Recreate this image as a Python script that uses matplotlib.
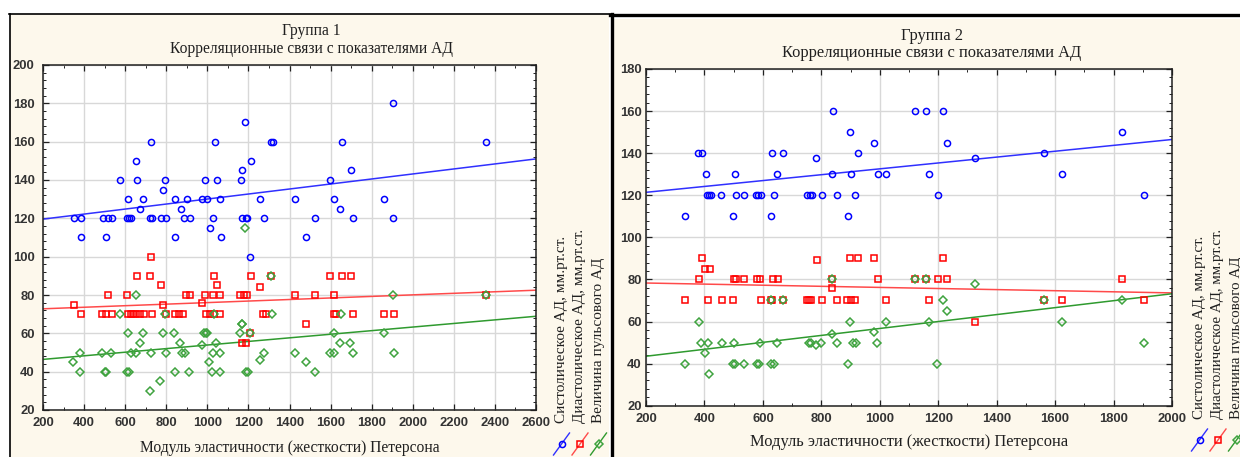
import numpy as np
import matplotlib.pyplot as plt
from matplotlib.patches import Rectangle
from matplotlib.lines import Line2D
from matplotlib.ticker import MultipleLocator

# Группа 1: (модуль Петерсона, АД)
g1_sys = [(349, 120), (383, 120), (490, 120), (516, 120), (534, 120), (610, 120), (619, 120),
          (626, 120), (720, 120), (730, 120), (773, 120), (801, 120), (884, 120), (914, 120),
          (1026, 120), (1167, 120), (1186, 120), (1193, 120), (1277, 120), (1525, 120),
          (1707, 120), (1905, 120),
          (383, 110), (506, 110), (843, 110), (1065, 110), (1481, 110), (1011, 115), (1206, 100),
          (673, 125), (870, 125), (1648, 125),
          (616, 130), (687, 130), (841, 130), (900, 130), (972, 130), (998, 130), (1063, 130),
          (1258, 130), (1429, 130), (1617, 130), (1860, 130), (784, 135),
          (576, 140), (658, 140), (796, 140), (988, 140), (1045, 140), (1162, 140), (1599, 140),
          (1167, 145), (1700, 145), (655, 150), (1215, 150),
          (725, 160), (1036, 160), (1311, 160), (1319, 160), (1656, 160), (2357, 160),
          (1181, 170), (1902, 180)]

g1_dia = [(725, 100),
          (660, 90), (720, 90), (1034, 90), (1215, 90), (1311, 90), (1599, 90), (1656, 90), (1700, 90),
          (773, 85), (1045, 85), (1257, 84),
          (514, 80), (607, 80), (898, 80), (917, 80), (988, 80), (1027, 80), (1063, 80), (1157, 80),
          (1178, 80), (1193, 80), (1429, 80), (1525, 80), (1617, 80), (2357, 80),
          (974, 76), (351, 75), (786, 75),
          (383, 70), (488, 70), (509, 70), (534, 70), (614, 70), (628, 70), (639, 70), (655, 70),
          (671, 70), (691, 70), (731, 70), (801, 70), (841, 70), (861, 70), (880, 70), (995, 70),
          (1011, 70), (1031, 70), (1063, 70), (1270, 70), (1287, 70), (1617, 70), (1627, 70),
          (1707, 70), (1858, 70), (1907, 70),
          (1481, 65), (1206, 60), (1167, 55), (1186, 55)]

g1_pulse = [(1181, 115), (1311, 90), (652, 80), (1902, 80), (2357, 80),
            (574, 70), (796, 70), (1031, 70), (1313, 70), (1651, 70), (1167, 65), (1170, 65),
            (614, 60), (687, 60), (784, 60), (840, 60), (982, 60), (992, 60), (998, 60), (1160, 60),
            (1209, 60), (1617, 60), (1858, 60),
            (671, 55), (869, 55), (1044, 55), (1646, 55), (1696, 55), (972, 54),
            (380, 50), (488, 50), (532, 50), (626, 50), (655, 50), (728, 50), (798, 50), (879, 50),
            (893, 50), (1027, 50), (1060, 50), (1275, 50), (1429, 50), (1599, 50), (1617, 50),
            (1707, 50), (1907, 50),
            (1254, 46), (347, 45), (1008, 45), (1481, 45),
            (380, 40), (503, 40), (509, 40), (607, 40), (619, 40), (841, 40), (911, 40), (1022, 40),
            (1060, 40), (1186, 40), (1197, 40), (1525, 40), (772, 35), (720, 30)]

# линии регрессии: значения на левом и правом краю оси X
g1_trend = [(119.6, 151.0), (72.8, 82.5), (46.4, 68.9)]

# Группа 2
g2_sys = [(841, 160), (1120, 160), (1157, 160), (1215, 160), (899, 150), (1830, 150),
          (981, 145), (1230, 145),
          (377, 140), (393, 140), (631, 140), (670, 140), (924, 140), (1562, 140),
          (783, 137.5), (1326, 137.5),
          (405, 130), (505, 130), (649, 130), (836, 130), (900, 130), (993, 130), (1021, 130),
          (1170, 130), (1623, 130),
          (408, 120), (414, 120), (421, 120), (458, 120), (507, 120), (536, 120), (577, 120),
          (584, 120), (592, 120), (639, 120), (750, 120), (761, 120), (768, 120), (802, 120),
          (855, 120), (916, 120), (1198, 120), (1905, 120),
          (334, 110), (497, 110), (628, 110), (892, 110)]

g2_dia = [(392, 90), (899, 90), (924, 90), (981, 90), (1215, 90), (784, 89), (403, 85), (419, 85),
          (380, 80), (502, 80), (508, 80), (536, 80), (579, 80), (591, 80), (636, 80), (653, 80),
          (837, 80), (993, 80), (1120, 80), (1157, 80), (1200, 80), (1230, 80), (1830, 80),
          (837, 76),
          (334, 70), (412, 70), (460, 70), (497, 70), (594, 70), (627, 70), (632, 70), (669, 70),
          (750, 70), (758, 70), (766, 70), (801, 70), (855, 70), (889, 70), (900, 70), (915, 70),
          (1020, 70), (1170, 70), (1562, 70), (1623, 70), (1905, 70),
          (1326, 60)]

g2_pulse = [(837, 80), (1120, 80), (1157, 80), (1326, 78),
            (627, 70), (669, 70), (1215, 70), (1562, 70), (1830, 70), (1229, 65),
            (380, 60), (899, 60), (1020, 60), (1170, 60), (1623, 60), (981, 55), (836, 54),
            (388, 50), (411, 50), (460, 50), (502, 50), (590, 50), (647, 50), (757, 50), (765, 50),
            (799, 50), (855, 50), (909, 50), (919, 50), (992, 50), (1905, 50), (782, 49), (403, 45),
            (334, 40), (497, 40), (505, 40), (535, 40), (580, 40), (586, 40), (627, 40), (638, 40),
            (890, 40), (1197, 40), (417, 35)]

g2_trend = [(121.4, 146.5), (78.3, 73.6), (43.5, 73.2)]

series_names = ["Систолическое АД, мм.рт.ст.",
                "Диастолическое АД, мм.рт.ст.",
                "Величина пульсового АД"]
title_sub = "Корреляционные связи с показателями АД"
x_label = "Модуль эластичности (жесткости) Петерсона"

W, H = 1240, 457
CREAM = "#fdf8ec"
SERIF = "Liberation Serif"
SANS = "Liberation Sans"
styles = [dict(marker="o", color="#0000ff", line="#3030ff", ms=4.4),
          dict(marker="s", color="#ff0000", line="#ff4a4a", ms=4.0),
          dict(marker="D", color="#3fa33f", line="#2f9a2f", ms=3.8)]

fig = plt.figure(figsize=(W / 100, H / 100), dpi=100)
fig.patch.set_facecolor("white")


def fx(x):
    return x / W


def fy(y):
    return 1 - y / H


def rect(x0, y0, x1, y1):
    return [fx(x0), fy(y1), (x1 - x0) / W, (y1 - y0) / H]


def fig_line(xs, ys, **kw):
    fig.add_artist(Line2D([fx(v) for v in xs], [fy(v) for v in ys], **kw))


# панели с рамкой (под осями)
fig.add_artist(Rectangle((fx(10), fy(457)), fx(599), 443 / H, facecolor=CREAM,
                         edgecolor="none", zorder=-5))
fig_line([9.5, 9.5], [457, 13.5], color="black", lw=1.2, zorder=-4)
fig_line([9, 612], [13.5, 13.5], color="black", lw=1.2, zorder=-4)
fig.add_artist(Rectangle((fx(613), fy(457)), fx(627), 438 / H, facecolor=CREAM,
                         edgecolor="none", zorder=-5))
fig_line([611.5, 611.5], [457, 14], color="black", lw=2.4, zorder=-4)
fig_line([610, 1240], [14.8, 14.8], color="black", lw=2.4, zorder=-4)


def panel(box, data, trend, xmax, ymin, ymax, title, title_x, title_y, xlab_y,
          leg_x, leg_bottom, fs, leg_fs, ypad):
    ax = fig.add_axes(rect(*box))
    ax.set_facecolor("white")
    for pts, tr, st in zip(data, trend, styles):
        x = [p[0] for p in pts]
        y = [p[1] for p in pts]
        ax.plot([200, xmax], tr, color=st["line"], lw=1.1, zorder=2)
        ax.plot(x, y, ls="none", marker=st["marker"], ms=st["ms"], mfc="none",
                mec=st["color"], mew=1.1, zorder=3)
    ax.set_xlim(200, xmax)
    ax.set_ylim(ymin, ymax)
    ax.xaxis.set_major_locator(MultipleLocator(200))
    ax.xaxis.set_minor_locator(MultipleLocator(100))
    ax.yaxis.set_major_locator(MultipleLocator(20))
    ax.yaxis.set_minor_locator(MultipleLocator(4))
    ax.grid(True, which="major", color="#d8d8d8", lw=1.0, zorder=0)
    ax.set_axisbelow(True)
    for s in ax.spines.values():
        s.set_color("#202020")
        s.set_linewidth(1.1)
    ax.tick_params(which="both", direction="in", top=True, right=True, color="#202020")
    ax.tick_params(which="major", length=4, width=0.9, labelsize=9.4, labelcolor="#333333")
    ax.tick_params(axis="x", which="major", pad=5)
    ax.tick_params(axis="y", which="major", pad=ypad)
    ax.tick_params(which="minor", length=2, width=0.7)
    for lab in ax.get_xticklabels() + ax.get_yticklabels():
        lab.set_fontfamily(SANS)
        lab.set_fontweight("bold")

    fig.text(fx(title_x), fy(title_y[0]), title, ha="center", va="center",
             family=SERIF, fontsize=fs, color="#202020")
    fig.text(fx(title_x), fy(title_y[1]), title_sub, ha="center", va="center",
             family=SERIF, fontsize=fs, color="#202020")
    cx = box[0] + (box[2] - box[0]) / 2
    fig.text(fx(cx), fy(xlab_y), x_label, ha="center", va="center",
             family=SERIF, fontsize=fs, color="#202020")

    # легенда: повернутые подписи и образцы маркеров
    for i, (name, st) in enumerate(zip(series_names, styles)):
        tx = leg_x + i * 18.5
        fig.text(fx(tx), fy(leg_bottom), name, rotation=90, ha="center", va="bottom",
                 family=SERIF, fontsize=leg_fs, color="#202020")
        fig_line([tx - 8, tx + 8], [leg_bottom + 32, leg_bottom + 10], color=st["line"], lw=1.0)
        fig_line([tx], [leg_bottom + 21], marker=st["marker"], ms=st["ms"], mfc="none",
                 mec=st["color"], mew=1.1, ls="none")
    return ax


panel((43, 65, 536, 410), [g1_sys, g1_dia, g1_pulse], g1_trend, 2600, 20, 200,
      "Группа 1", 311, (31, 49), 448, 561.5, 423, 11.2, 11.0, 6)
panel((646, 69, 1172, 405.7), [g2_sys, g2_dia, g2_pulse], g2_trend, 2000, 20, 180,
      "Группа 2", 932, (36, 53), 442, 1199.5, 419, 11.9, 10.8, 3)

fig.savefig("out.png", dpi=100)
